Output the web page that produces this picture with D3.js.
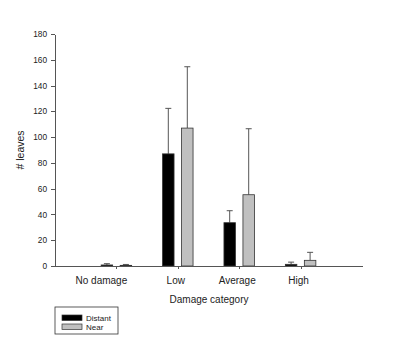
<!DOCTYPE html>
<meta charset="utf-8">
<head>
<style>
  body { margin: 0; background: #fff; }
  text { font-family: "Liberation Sans", Arial, sans-serif; fill: #222; }
  .axis path, .axis line { stroke: #555; shape-rendering: crispEdges; }
</style>
</head>
<script src="https://d3js.org/d3.v7.min.js"></script>
<svg width="405" height="353" id="svg1"></svg>
<script>
  // data
  const categories = ["No damage", "Low", "Average", "High"];
  const groups = ["Distant", "Near"];
  const distantMean = [0.8, 87, 33.6, 1.3];
  const distantErr = [1.0, 35.3, 9.3, 1.7];
  const nearMean = [0.5, 107, 55.3, 4.4];
  const nearErr = [0.7, 47.6, 51.2, 6.2];
  const yTicks = [0, 20, 40, 60, 80, 100, 120, 140, 160, 180];
  const colors = { "Distant": "#000000", "Near": "#c0c0c0" };

  const svg = d3.select('#svg1');

  const x = d3.scalePoint().domain(categories).range([55, 362]).padding(1);
  const y = d3.scaleLinear().domain([0, 180]).range([266, 34]);
  const offset = d3.scalePoint().domain(groups).range([-9.5, 9.5]);
  const barW = 11.5;

  const rows = [];
  categories.forEach((c, i) => {
    rows.push({ cat: c, grp: "Distant", v: distantMean[i], e: distantErr[i] });
    rows.push({ cat: c, grp: "Near", v: nearMean[i], e: nearErr[i] });
  });

  // error bars (upper only)
  const eb = svg.append('g').attr('stroke', '#555').attr('stroke-width', 1);
  eb.selectAll('.err')
    .data(rows)
    .enter().append('line')
      .attr('x1', d => x(d.cat) + offset(d.grp))
      .attr('x2', d => x(d.cat) + offset(d.grp))
      .attr('y1', d => y(d.v))
      .attr('y2', d => y(d.v + d.e));
  eb.selectAll('.cap')
    .data(rows)
    .enter().append('line')
      .attr('x1', d => x(d.cat) + offset(d.grp) - 3)
      .attr('x2', d => x(d.cat) + offset(d.grp) + 3)
      .attr('y1', d => y(d.v + d.e))
      .attr('y2', d => y(d.v + d.e));

  // bars
  svg.append('g').selectAll('rect')
    .data(rows)
    .enter().append('rect')
      .attr('x', d => x(d.cat) + offset(d.grp) - barW / 2)
      .attr('y', d => y(d.v))
      .attr('width', barW)
      .attr('height', d => y(0) - y(d.v))
      .attr('fill', d => colors[d.grp])
      .attr('stroke', '#333')
      .attr('stroke-width', 0.8);

  // axes
  const yAxis = d3.axisLeft(y).tickValues(yTicks).tickSize(4).tickPadding(4).tickSizeOuter(0);
  svg.append('g').attr('class', 'axis')
    .attr('transform', 'translate(55,0)')
    .call(yAxis)
    .selectAll('text').attr('font-size', '8.3px');

  const xAxis = d3.axisBottom(x).tickSize(3).tickSizeOuter(0).tickFormat('');
  svg.append('g').attr('class', 'axis')
    .attr('transform', 'translate(0,266)')
    .call(xAxis);

  // category labels (sit a little left of the ticks in the original)
  svg.append('g').selectAll('text')
    .data(categories)
    .enter().append('text')
      .attr('x', d => x(d) - (d === "No damage" ? 15 : 2))
      .attr('y', 284)
      .attr('text-anchor', 'middle')
      .attr('font-size', '10px')
      .text(d => d);

  svg.append('text')
    .attr('x', 209).attr('y', 303)
    .attr('text-anchor', 'middle')
    .attr('font-size', '10px')
    .text('Damage category');

  svg.append('text')
    .attr('transform', 'translate(24,150) rotate(-90)')
    .attr('text-anchor', 'middle')
    .attr('font-size', '10.5px')
    .text('# leaves');

  // legend
  const lg = svg.append('g').attr('transform', 'translate(55,307)');
  lg.append('rect')
    .attr('width', 63).attr('height', 27)
    .attr('fill', 'none').attr('stroke', '#333').attr('stroke-width', 0.8);
  const item = lg.selectAll('.item')
    .data(groups)
    .enter().append('g')
      .attr('transform', (d, i) => `translate(7,${8 + i * 9})`);
  item.append('rect')
    .attr('width', 20).attr('height', 5.5)
    .attr('fill', d => colors[d]).attr('stroke', '#333').attr('stroke-width', 0.7);
  item.append('text')
    .attr('x', 24).attr('y', 5.5)
    .attr('font-size', '8px')
    .text(d => d);
</script>
